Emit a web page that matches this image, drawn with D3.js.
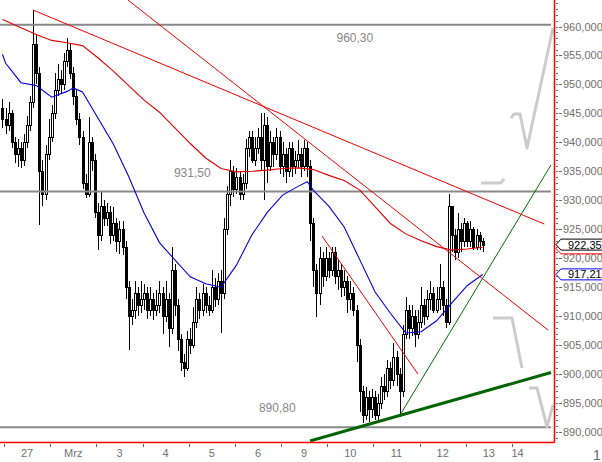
<!DOCTYPE html>
<html><head><meta charset="utf-8">
<script src="https://cdn.jsdelivr.net/npm/d3@7"></script>
<style>html,body{margin:0;padding:0;background:#fff;overflow:hidden}svg{display:block}</style>
</head><body>
<svg id="c" width="602" height="462"></svg>
<script>
// ---- data (candle index m starts at -1 = last bar of 26 Feb; 15 bars per trading day) ----
const dayLabels = ["27","Mrz","3","4","5","6","9","10","11","12","13","14"];
const dayLabelPos = [0.5,1.5,2.5,3.5,4.5,5.5,6.5,7.5,8.5,9.5,10.5,11.12];
const barsPerDay = 15;
const firstBar = -1;
const opens = [946,944,943,945,940,938,939,937,940,943,947,957,952,935,931,938,941,945,949,951,950,954,956,952,948,944,941,933,931,940,937,928,924,929,927,928,924,926,923,925,922,915,910,911,914,912,913,914,911,913,911,912,914,910,913,908,918,912,906,902,901,906,905,909,913,911,914,912,911,915,913,916,914,925,931,935,932,934,931,933,939,941,937,939,941,937,943,936,940,938,941,936,938,935,939,936,937,938,936,939,936,926,918,914,920,917,920,918,921,917,918,915,916,913,914,911,905,897,893,896,894,896,893,895,898,897,901,899,903,900,897,907,911,908,910,907,909,912,910,913,914,911,913,915,912,909,929,924,921,925,923,926,923,925,922,924,923];
const highs = [947.5,946,947,945.5,941,940.5,940,941.5,944.5,948,962.8,958.5,953,937,939.5,944,946.5,952,953.5,952.5,955.5,958,957,953,949,945,942,934.5,944.4,941,938,929.5,931.5,930,929.5,929,928.8,927,926.5,926.5,923,916,913,916,915,916,915.5,915,915,914,914.5,916,915,916,914,922,919,913,907,903.5,907.5,908,911.6,915,914,915.5,915,913.5,918,916.5,917.5,918,927,932.5,937,936,935.5,935,934.5,940.5,942,942,941,942.5,945,945,944.4,942,941,942.5,942,940,939,940,940,938.5,940.4,939,940.4,940,937,927,919,922,921,922,921,922,922,919.7,919,918,917,916,915,912,906,898,897.7,897,897.5,897,896.5,899.5,900,902.4,902,905.3,904,901,908.5,913.3,912,912,911,911,915,913,914.5,916,915,915,919,916,913,931,929,925,927.8,926,927,926.5,926.5,925.4,925,924.5,923.5];
const lows = [942.5,941.5,942,939,936.5,935.7,935.5,936,939,942,946,950,925.7,929,930,937,940,944,948,948.5,949,953,951,946.5,943,939.5,932,930.4,930.5,935,927,921.5,923,925.5,925.5,922.5,923,921,920.8,920.5,913,904.2,908.5,909.5,910,910.5,911,909.5,910,909.4,910,910.5,907,909,904.7,907,910,904,900.5,899.5,900.5,903.5,904.5,908,909.5,910,910.5,910,910.5,911.6,912,907.1,913,924,929,930.5,931,930,930,932,937.5,936.4,936,938,935,930,933,935,935.8,937,934.5,934,933,934,934,934.5,935.5,934,935,934,923,915,909.9,912,915,916,916.5,917,915.5,914.5,913.3,913.5,910.5,911,910,902,893.5,891.5,892,891.8,892.5,892,892,894,895.5,896,897.5,898,898,892.6,896,906,906,906.5,904.7,906,908,908.5,909.4,911,910.5,910.5,911,910,908,908.5,921,919.7,920,921,922,922,922,921.5,921.5,921.5,921];
const closes = [944,943,945,940,938,939,937,940,943,947,957,952,935,931,938,941,945,949,951,950,954,956,952,948,944,941,933,931,940,937,928,924,929,927,928,924,926,923,925,922,915,910,911,914,912,913,914,911,913,911,912,914,910,913,908,918,912,906,902,901,906,905,909,913,911,914,912,911,915,913,916,914,925,931,935,932,934,931,933,939,941,937,939,941,937,943,936,940,938,941,936,938,935,939,936,937,938,936,939,936,926,918,914,920,917,920,918,921,917,918,915,916,913,914,911,905,897,893,896,894,896,893,895,898,897,901,899,903,900,897,907,911,908,910,907,909,912,910,913,914,911,913,915,912,909,929,924,921,925,923,926,923,925,922,924,923,922.35];

const blueIdx  = [-1,0,5,10,15,20,22,25,30,35,40,45,50,55,60,65,70,75,80,85,90,95,98,100,105,110,115,120,125,130,135,140,145,150,155];
const blueVals = [955.2,953.7,950.3,949.8,947.8,948.8,949.4,948.7,944.2,939.7,934.1,927.8,922.7,919.7,916.8,915.6,915.0,918.8,924.0,927.9,930.9,932.4,933.2,931.7,929.0,925.4,919.8,914.2,910.5,907.1,907.3,909.2,912.3,915.3,917.2];
const redIdx  = [-1,0,5,10,15,20,25,30,35,40,45,50,55,60,65,70,75,80,85,90,95,100,105,110,115,120,125,130,135,140,145,150,155];
const redVals = [961.2,961.0,959.8,958.6,957.6,957.2,956.7,954.6,952.3,949.8,947.3,945.2,942.5,939.8,937.3,935.5,934.9,935.0,935.2,935.5,935.6,935.3,934.3,933.4,931.8,928.9,926.0,924.2,923.0,922.0,921.4,921.6,921.9];

// trend lines: [day0, price0, day1, price1]
const redTrends = [[0.628,962.85,11.70,925.9],[2.685,964.57,11.78,907.6],[6.886,923.84,8.965,900.0]];
const greenThin = [8.575,892.9,11.845,936.1];
const greenThick = [6.626,888.45,11.845,900.27];
const levels = [960.30, 931.50, 890.80];
const levelLabels = ["960,30","931,50","890,80"];
const levelLabelDay = [7.2, 3.68, 5.52];
const yTicks = [890,895,900,905,910,915,920,925,930,935,940,945,950,955,960];
const lastPrice = 922.35, lastBlue = 917.21, lastRed = 921.7;
// projected path sketches: [day, price]
const projTop1 = [[10.329,932.99],[10.762,932.99],[10.827,933.68]];
const projTop2 = [[10.979,944.2],[11.044,944.9],[11.174,944.9],[11.325,939.03],[11.888,959.74]];
const projBot1 = [[10.589,909.68],[11.0,909.68],[11.217,901.05]];
const projBot2 = [[11.369,897.6],[11.542,897.6],[11.759,890.87],[11.888,894.67]];

// ---- scales ----
const svg = d3.select("#c");
const plotR = 554, plotB = 442;
const x = d3.scaleLinear().domain([0, 1]).range([4, 50.18]);
const y = d3.scaleLinear().domain([890, 960]).range([432, 26.5]);
const barT = m => (m + 0.5) / barsPerDay;
const fmt = v => v.toFixed(2).replace(".", ",");
const FONT = "Liberation Sans, Arial, sans-serif";

const defs = svg.append("defs");
defs.append("clipPath").attr("id","plot").append("rect").attr("x",0).attr("y",0).attr("width",plotR).attr("height",plotB);
const g = svg.append("g").attr("clip-path","url(#plot)");

// candles
const bars = closes.map((c,i)=>({m:i+firstBar,o:opens[i],h:highs[i],l:lows[i],c}));
const cg = g.append("g").attr("shape-rendering","crispEdges");
bars.forEach(b=>{
  const cx = Math.round(x(barT(b.m))) + 0.5;
  cg.append("line").attr("x1",cx).attr("x2",cx).attr("y1",y(b.h)).attr("y2",y(b.l)).attr("stroke","#000").attr("stroke-width",1);
  const top = Math.round(y(Math.max(b.o,b.c))) + 0.5, bot = Math.round(y(Math.min(b.o,b.c))) + 0.5;
  cg.append("rect").attr("x",cx-1).attr("y",top).attr("width",2).attr("height",Math.max(1,bot-top))
    .attr("fill", b.c>=b.o ? "#fff" : "#000").attr("stroke","#000").attr("stroke-width",1);
});

// gray levels
levels.forEach((v,i)=>{
  g.append("line").attr("x1",0).attr("x2",x(11.845)).attr("y1",y(v)).attr("y2",y(v))
    .attr("stroke","#888").attr("stroke-width",2);
  g.append("text").attr("x",x(levelLabelDay[i])).attr("y",y(v)+ (i===0?17:-15))
    .attr("font-family",FONT).attr("font-size",12).attr("fill","#888").text(levelLabels[i]);
});

const line = d3.line().x(d=>x(d[0])).y(d=>y(d[1]));
// projection sketches (light gray)
[projTop1, projTop2, projBot1, projBot2].forEach(p=>{
  svg.append("path").attr("d",line(p)).attr("fill","none").attr("stroke","#cbcbcb").attr("stroke-width",3).attr("stroke-linejoin","round");
});

// moving averages
const maLine = d3.line().x(d=>x(barT(d[0]))).y(d=>y(d[1]));
g.append("path").attr("d",maLine(redIdx.map((m,i)=>[m,redVals[i]]))).attr("fill","none").attr("stroke","#e00000").attr("stroke-width",1.1);
g.append("path").attr("d",maLine(blueIdx.map((m,i)=>[m,blueVals[i]]))).attr("fill","none").attr("stroke","#0000e0").attr("stroke-width",1.1);

// trend lines
redTrends.forEach(t=>{
  g.append("line").attr("x1",x(t[0])).attr("y1",y(t[1])).attr("x2",x(t[2])).attr("y2",y(t[3])).attr("stroke","#ee0000").attr("stroke-width",1);
});
g.append("line").attr("x1",x(greenThin[0])).attr("y1",y(greenThin[1])).attr("x2",x(greenThin[2])).attr("y2",y(greenThin[3])).attr("stroke","#007000").attr("stroke-width",1);
g.append("line").attr("x1",x(greenThick[0])).attr("y1",y(greenThick[1])).attr("x2",x(greenThick[2])).attr("y2",y(greenThick[3])).attr("stroke","#006400").attr("stroke-width",3);

// frame
svg.append("line").attr("x1",0).attr("x2",plotR+0.5).attr("y1",plotB+0.5).attr("y2",plotB+0.5).attr("stroke","#f00").attr("stroke-width",1.5);
svg.append("line").attr("x1",plotR+0.5).attr("x2",plotR+0.5).attr("y1",0).attr("y2",plotB+0.5).attr("stroke","#f00").attr("stroke-width",1.5);

// right axis
const ax = svg.append("g").attr("shape-rendering","crispEdges");
d3.range(886, 965).forEach(v=>{
  const yy = Math.round(y(v))+0.5;
  if (yy>plotB) return;
  ax.append("line").attr("x1",556).attr("x2",558).attr("y1",yy).attr("y2",yy).attr("stroke","#666");
});
yTicks.forEach(v=>{
  const yy = Math.round(y(v))+0.5;
  ax.append("line").attr("x1",559).attr("x2",562).attr("y1",yy).attr("y2",yy).attr("stroke","#666");
  svg.append("text").attr("x",563).attr("y",y(v)+4).attr("font-family",FONT).attr("font-size",11).attr("fill","#707070").text(v.toFixed(3).replace(".",","));
});

// price tags
function tag(v, stroke, txt){
  const yy = y(v);
  const p = `M556,${yy} L561,${yy-5.5} L603,${yy-5.5} L603,${yy+5.5} L561,${yy+5.5} Z`;
  svg.append("path").attr("d",p).attr("fill","#fff").attr("stroke",stroke).attr("stroke-width",1);
  if (txt) svg.append("text").attr("x",568).attr("y",yy+4).attr("font-family",FONT).attr("font-size",11).attr("fill","#000").text(txt);
}
tag(lastRed, "#f00", null);
tag(lastPrice, "#000", fmt(lastPrice));
tag(lastBlue, "#00f", fmt(lastBlue));

// x axis
const xa = svg.append("g").attr("shape-rendering","crispEdges");
d3.range(0, 12).forEach(d=>{
  const xx = Math.round(x(d))+0.5;
  xa.append("line").attr("x1",xx).attr("x2",xx).attr("y1",444).attr("y2",447).attr("stroke","#666");
});
dayLabels.forEach((t,i)=>{
  svg.append("text").attr("x",x(dayLabelPos[i])).attr("y",457).attr("text-anchor","middle")
    .attr("font-family",FONT).attr("font-size",11).attr("fill","#707070").text(t);
});
svg.append("text").attr("x",601).attr("y",460).attr("text-anchor","end").attr("font-family",FONT).attr("font-size",15).attr("fill","#707070").text("1");
</script>
</body></html>
